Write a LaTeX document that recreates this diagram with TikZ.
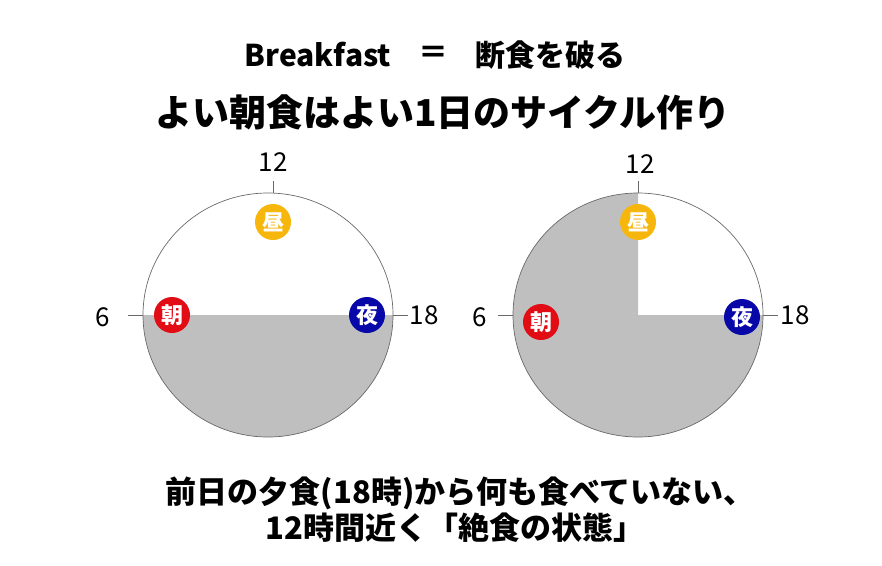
\documentclass[tikz,border=0pt]{standalone}
\usepackage{fontspec}
\setmainfont{Noto Sans CJK JP}
\definecolor{greyfill}{RGB}{191,191,191}
\definecolor{rim}{RGB}{105,105,105}
\definecolor{asa}{RGB}{226,12,20}
\definecolor{hiru}{RGB}{246,182,12}
\definecolor{yoru}{RGB}{8,8,168}
\tikzset{
  badge/.style={circle,fill=#1,text=white,inner sep=0pt,minimum size=36pt,
    font=\fontsize{22}{22}\selectfont\bfseries},
  hour/.style={font=\fontsize{26}{26}\selectfont},
  headline/.style={font=\fontsize{#1}{#1}\selectfont\bfseries,inner sep=0pt},
  rimline/.style={draw=rim,line width=0.7pt}
}
\begin{document}
\begin{tikzpicture}[x=1pt,y=-1pt]
\useasboundingbox (0,0) rectangle (882,565);
% titles
\node[headline=30] (brk) at (318,55) {Breakfast};
\node[headline=30] (eq) at (433,55) {＝};
\node[headline=30] (fast) at (550,55) {断食を破る};
\node[headline=37] (cycle) at (443,112) {よい朝食はよい1日のサイクル作り};
% left clock
\fill[greyfill] (143,315) arc[start angle=180,end angle=360,x radius=125pt,y radius=122pt] -- cycle;
\draw[rimline] (268,315) ellipse[x radius=125pt,y radius=122pt];
% right clock
\fill[greyfill] (638,315) -- (638,193) arc[start angle=90,end angle=360,x radius=125pt,y radius=122pt] -- cycle;
\draw[rimline] (638,315) ellipse[x radius=125pt,y radius=122pt];
\foreach \cx/\tx in {268/273,638/638}
{
\draw[rimline] (\tx,181) -- (\tx,193);
\draw[rimline] (\cx-140,315) -- (\cx-125,315);
\draw[rimline] (\cx+125,315) -- (\cx+140,315);
}
% hours
\node[hour] (noonL) at (273,162) {12};
\node[hour] (sixL) at (103,317) {6};
\node[hour] (eveL) at (424,315) {18};
\node[hour] (noonR) at (640,164) {12};
\node[hour] (sixR) at (480,317) {6};
\node[hour] (eveR) at (795,315) {18};
% meals
\node[badge=hiru] (lunchL) at (273,222) {昼};
\node[badge=asa] (morningL) at (172,315) {朝};
\node[badge=yoru] (nightL) at (367,315) {夜};
\node[badge=hiru] (lunchR) at (638,222) {昼};
\node[badge=asa] (morningR) at (541,322) {朝};
\node[badge=yoru] (nightR) at (742,317) {夜};
% note
\node[headline=31] (note1) at (460,493) {前日の夕食(18時)から何も食べていない、};
\node[headline=31] (note2) at (455,528) {12時間近く「絶食の状態」};
\end{tikzpicture}
\end{document}
